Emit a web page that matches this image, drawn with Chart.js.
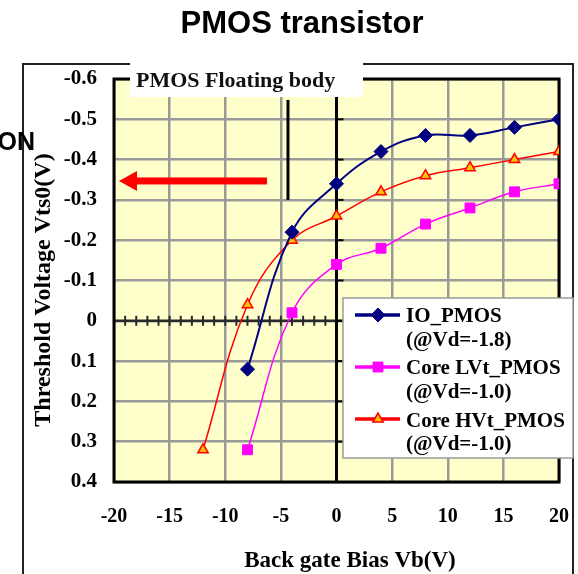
<!DOCTYPE html>
<html><head><meta charset="utf-8">
<script src="https://cdn.jsdelivr.net/npm/chart.js@4/dist/chart.umd.min.js"></script>
<style>html,body{margin:0;padding:0;background:#fff;overflow:hidden}#wrap{width:578px;height:574px;position:relative}</style>
</head><body><div id="wrap"><canvas id="c" width="578" height="574"></canvas></div>
<script>
// ---- text ----
const chartTitle = 'PMOS transistor';
const noteLabel = 'PMOS Floating body';
const sideLabel = 'ON';
const xAxisTitle = 'Back gate Bias Vb(V)';
const yAxisTitle = 'Threshold Voltage Vts0(V)';
const seriesNames = ['IO_PMOS', 'Core LVt_PMOS', 'Core HVt_PMOS'];
const seriesNotes = ['(@Vd=-1.8)', '(@Vd=-1.0)', '(@Vd=-1.0)'];
// ---- data ----
const ioBias  = [-8, -4, 0, 4, 8, 12, 16, 20];
const ioVts   = [0.12, -0.22, -0.34, -0.42, -0.46, -0.46, -0.48, -0.50];
const lvtBias = [-8, -4, 0, 4, 8, 12, 16, 20];
const lvtVts  = [0.32, -0.02, -0.14, -0.18, -0.24, -0.28, -0.32, -0.34];
const hvtBias = [-12, -8, -4, 0, 4, 8, 12, 16, 20];
const hvtVts  = [0.32, -0.04, -0.20, -0.26, -0.32, -0.36, -0.38, -0.40, -0.42];
const xTicks = [-20, -15, -10, -5, 0, 5, 10, 15, 20];
const yTicks = [-0.6, -0.5, -0.4, -0.3, -0.2, -0.1, 0, 0.1, 0.2, 0.3, 0.4];

const SERIF = '"Liberation Serif", "Times New Roman", serif';
const SANS = '"Liberation Sans", Arial, sans-serif';

function toPts(xs, ys) { return xs.map((x, i) => ({ x: x, y: ys[i] })); }

function drawMarker(ctx, style, x, y, r, fill, stroke, lw) {
  ctx.save();
  ctx.beginPath();
  if (style === 'rectRot') {
    ctx.moveTo(x, y - r); ctx.lineTo(x + r, y); ctx.lineTo(x, y + r); ctx.lineTo(x - r, y);
  } else if (style === 'rect') {
    const s = r * Math.SQRT1_2; ctx.rect(x - s, y - s, 2 * s, 2 * s);
  } else {
    for (let k = 0; k < 3; k++) {
      const a = k * 2 * Math.PI / 3;
      const px = x + Math.sin(a) * r, py = y - Math.cos(a) * r;
      if (k === 0) ctx.moveTo(px, py); else ctx.lineTo(px, py);
    }
  }
  ctx.closePath();
  ctx.fillStyle = fill; ctx.fill();
  ctx.lineWidth = lw; ctx.strokeStyle = stroke; ctx.stroke();
  ctx.restore();
}

const decor = {
  id: 'decor',
  beforeDraw(chart) {
    const ctx = chart.ctx, a = chart.chartArea;
    ctx.save();
    ctx.fillStyle = '#fff'; ctx.fillRect(0, 0, chart.width, chart.height);
    // outer frame
    ctx.strokeStyle = '#222'; ctx.lineWidth = 2;
    ctx.beginPath();
    ctx.moveTo(23, 574); ctx.lineTo(23, 64); ctx.lineTo(573, 64); ctx.lineTo(573, 574);
    ctx.stroke();
    // plot background
    ctx.fillStyle = '#FFFFCC';
    ctx.fillRect(a.left, a.top, a.right - a.left, a.bottom - a.top);
    ctx.restore();
  },
  beforeDatasetsDraw(chart) {
    const ctx = chart.ctx, a = chart.chartArea;
    const xs = chart.scales.x, ys = chart.scales.y;
    ctx.save();
    // horizontal zero line with minor ticks
    const y0 = ys.getPixelForValue(0);
    ctx.strokeStyle = '#2a2a2a'; ctx.lineWidth = 2.5;
    ctx.beginPath(); ctx.moveTo(a.left, y0); ctx.lineTo(a.right, y0); ctx.stroke();
    ctx.lineWidth = 2;
    for (let v = -20; v <= 20; v++) {
      const px = xs.getPixelForValue(v);
      ctx.beginPath(); ctx.moveTo(px, y0 - 5); ctx.lineTo(px, y0 + 5); ctx.stroke();
    }
    // vertical zero axis with ticks
    const x0 = xs.getPixelForValue(0);
    ctx.strokeStyle = '#000'; ctx.lineWidth = 3;
    ctx.beginPath(); ctx.moveTo(x0, a.top); ctx.lineTo(x0, a.bottom); ctx.stroke();
    ctx.lineWidth = 2;
    yTicks.forEach(v => {
      const py = ys.getPixelForValue(v);
      ctx.beginPath(); ctx.moveTo(x0, py); ctx.lineTo(x0 + 7, py); ctx.stroke();
    });
    // black marker line
    const xm = xs.getPixelForValue(-4.36);
    ctx.lineWidth = 3;
    ctx.beginPath(); ctx.moveTo(xm, ys.getPixelForValue(-0.548)); ctx.lineTo(xm, ys.getPixelForValue(-0.30)); ctx.stroke();
    // red arrow
    const ay = ys.getPixelForValue(-0.347);
    const tail = xs.getPixelForValue(-6.25), tip = xs.getPixelForValue(-19.55);
    ctx.fillStyle = '#FF0000';
    ctx.fillRect(tip + 15, ay - 3.5, tail - tip - 15, 7);
    ctx.beginPath(); ctx.moveTo(tip, ay); ctx.lineTo(tip + 18, ay - 10); ctx.lineTo(tip + 18, ay + 10); ctx.closePath(); ctx.fill();
    // plot border
    ctx.strokeStyle = '#000'; ctx.lineWidth = 3;
    ctx.strokeRect(a.left, a.top, a.right - a.left, a.bottom - a.top);
    ctx.restore();
  },
  afterDraw(chart) {
    const ctx = chart.ctx;
    ctx.save();
    // legend
    ctx.fillStyle = '#fff'; ctx.fillRect(343, 298, 230, 160);
    ctx.strokeStyle = '#9a9a9a'; ctx.lineWidth = 1.5; ctx.strokeRect(343, 298, 230, 160);
    const lineY = [315, 367, 419], base1 = [322, 374, 427], base2 = [346, 398, 450];
    chart.data.datasets.forEach((ds, i) => {
      ctx.strokeStyle = ds.borderColor; ctx.lineWidth = 3.5;
      ctx.beginPath(); ctx.moveTo(355, lineY[i]); ctx.lineTo(400, lineY[i]); ctx.stroke();
      drawMarker(ctx, ds.pointStyle, 378, lineY[i], ds.pointRadius, ds.pointBackgroundColor, ds.pointBorderColor, ds.pointBorderWidth);
      ctx.fillStyle = '#000'; ctx.font = 'bold 21px ' + SERIF; ctx.textAlign = 'left'; ctx.textBaseline = 'alphabetic';
      ctx.fillText(seriesNames[i], 406, base1[i]);
      ctx.fillText(seriesNotes[i], 406, base2[i]);
    });
    // note label box
    ctx.fillStyle = '#fff'; ctx.fillRect(130, 62, 233, 35);
    ctx.font = 'bold 22px ' + SERIF; ctx.fillStyle = '#111'; ctx.textAlign = 'left';
    ctx.fillText(noteLabel, 136, 87);
    // title
    ctx.font = 'bold 31px ' + SANS; ctx.fillStyle = '#000'; ctx.textAlign = 'center';
    ctx.fillText(chartTitle, 302, 33);
    // side label
    ctx.font = 'bold 25px ' + SANS; ctx.textAlign = 'right';
    ctx.fillText(sideLabel, 35, 150);
    // axis titles
    ctx.font = 'bold 23px ' + SERIF; ctx.textAlign = 'center';
    ctx.fillText(xAxisTitle, 350, 567);
    ctx.translate(44, 290); ctx.rotate(-Math.PI / 2);
    ctx.font = 'bold 24px ' + SERIF; ctx.textBaseline = 'middle';
    ctx.fillText(yAxisTitle, 0, 0);
    ctx.restore();
  }
};

new Chart(document.getElementById('c'), {
  type: 'line',
  data: {
    datasets: [
      { label: seriesNames[0], data: toPts(ioBias, ioVts), borderColor: '#000080', borderWidth: 2,
        pointStyle: 'rectRot', pointRadius: 7, pointBackgroundColor: '#000080', pointBorderColor: '#000080', pointBorderWidth: 1, tension: 0.4 },
      { label: seriesNames[1], data: toPts(lvtBias, lvtVts), borderColor: '#FF00FF', borderWidth: 1.5,
        pointStyle: 'rect', pointRadius: 7, pointBackgroundColor: '#FF00FF', pointBorderColor: '#FF00FF', pointBorderWidth: 1, tension: 0.4 },
      { label: seriesNames[2], data: toPts(hvtBias, hvtVts), borderColor: '#FF0000', borderWidth: 1.5,
        pointStyle: 'triangle', pointRadius: 6, pointBackgroundColor: '#FFC000', pointBorderColor: '#FF0000', pointBorderWidth: 1.5, tension: 0.4 }
    ]
  },
  options: {
    responsive: false, animation: false, devicePixelRatio: 1,
    layout: { padding: { top: 79, right: 19, left: 0, bottom: 0 } },
    plugins: { legend: { display: false }, title: { display: false }, tooltip: { enabled: false } },
    scales: {
      x: {
        type: 'linear', min: -20, max: 20,
        afterBuildTicks: s => { s.ticks = xTicks.map(v => ({ value: v })); },
        afterFit: s => { s.height = 92; s.paddingLeft = 0; s.paddingRight = 0; },
        ticks: { font: { family: SERIF, size: 20, weight: 'bold' }, color: '#000', padding: 23, maxRotation: 0, autoSkip: false, callback: v => String(v) },
        grid: { color: '#9a9a9a', lineWidth: 2.5, drawTicks: false },
        border: { display: false }
      },
      y: {
        type: 'linear', min: -0.6, max: 0.4, reverse: true,
        afterBuildTicks: s => { s.ticks = yTicks.map(v => ({ value: v })); },
        afterFit: s => { s.width = 114; s.paddingTop = 0; s.paddingBottom = 0; },
        ticks: { font: { family: SERIF, size: 21, weight: 'bold' }, color: '#000', padding: 17, autoSkip: false, callback: v => Math.abs(v) < 1e-9 ? '0' : v.toFixed(1) },
        grid: { color: '#9a9a9a', lineWidth: 2.5, drawTicks: false },
        border: { display: false }
      }
    }
  },
  plugins: [decor]
});
</script></body></html>
